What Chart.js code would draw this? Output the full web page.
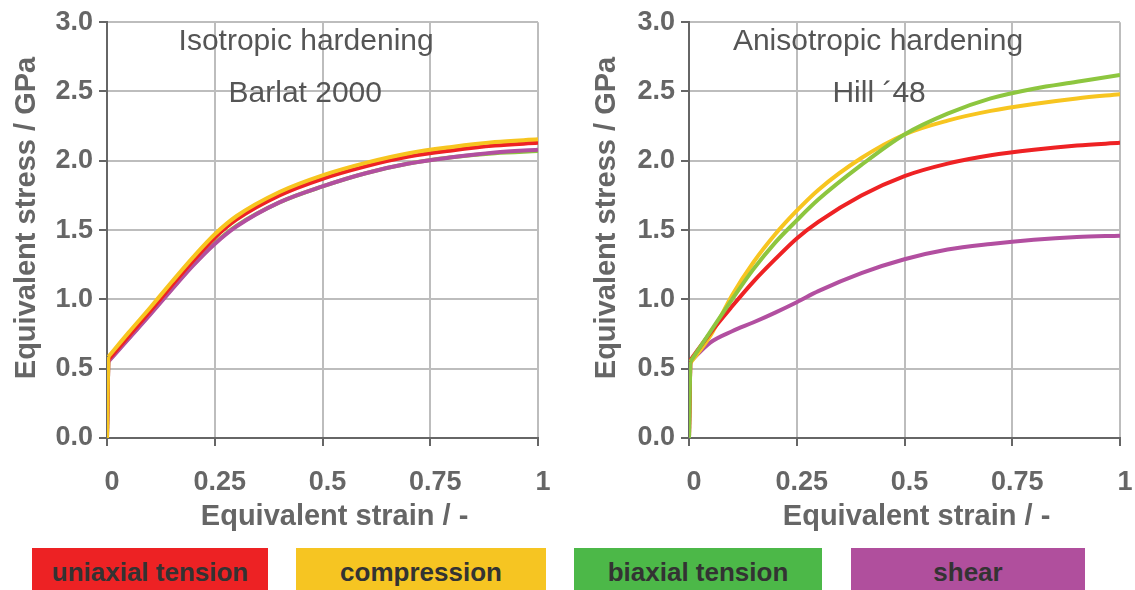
<!DOCTYPE html>
<html>
<head>
<meta charset="utf-8">
<script src="https://cdn.jsdelivr.net/npm/chart.js@4/dist/chart.umd.min.js"></script>
<style>
  body { margin: 0; background: #fff; width: 1135px; height: 590px; position: relative; overflow: hidden; font-family: "Liberation Sans", Arial, sans-serif; }
  .panel { position: absolute; top: 0; height: 540px; }
  #leftBox { left: 0; width: 560px; }
  #rightBox { left: 580px; width: 555px; }
  .key { position: absolute; top: 548px; height: 42px; line-height: 48px; text-align: center; font-weight: bold; font-size: 26px; color: #333; }
</style>
</head>
<body>
<div class="panel" id="leftBox"><canvas id="isoChart"></canvas></div>
<div class="panel" id="rightBox"><canvas id="anisoChart"></canvas></div>

<div class="key" style="left:32px;width:236px;background:#ed2224">uniaxial tension</div>
<div class="key" style="left:296px;width:250px;background:#f6c522">compression</div>
<div class="key" style="left:574px;width:248px;background:#4cb848">biaxial tension</div>
<div class="key" style="left:851px;width:234px;background:#b04f9d">shear</div>

<script>
// strain points shared by every curve (first step = elastic part)
var strain = [0, 0.003, 0.05, 0.1, 0.15, 0.2, 0.25, 0.3, 0.4, 0.5, 0.6, 0.7, 0.8, 0.9, 1.0];

// isotropic hardening, Barlat 2000 (GPa)
var isoTension     = [0, 0.565, 0.735, 0.915, 1.10, 1.28, 1.445, 1.575, 1.75, 1.87, 1.96, 2.03, 2.075, 2.11, 2.13];
var isoCompression = [0, 0.585, 0.76, 0.94, 1.125, 1.305, 1.47, 1.60, 1.775, 1.895, 1.985, 2.055, 2.10, 2.135, 2.155];
var isoBiaxial     = [0, 0.555, 0.72, 0.895, 1.075, 1.25, 1.405, 1.53, 1.70, 1.815, 1.91, 1.98, 2.025, 2.055, 2.07];
var isoShear       = [0, 0.55, 0.715, 0.89, 1.07, 1.245, 1.40, 1.525, 1.70, 1.815, 1.91, 1.98, 2.025, 2.06, 2.08];

// anisotropic hardening, Hill '48 (GPa)
var anisoTension     = [0, 0.56, 0.76, 0.95, 1.13, 1.29, 1.44, 1.56, 1.75, 1.89, 1.98, 2.04, 2.08, 2.11, 2.13];
var anisoCompression = [0, 0.54, 0.74, 1.03, 1.27, 1.47, 1.64, 1.79, 2.02, 2.19, 2.29, 2.36, 2.41, 2.45, 2.48];
var anisoBiaxial     = [0, 0.55, 0.77, 1.00, 1.22, 1.41, 1.57, 1.72, 1.97, 2.19, 2.34, 2.45, 2.52, 2.57, 2.62];
var anisoShear       = [0, 0.55, 0.69, 0.77, 0.835, 0.905, 0.98, 1.06, 1.19, 1.29, 1.36, 1.40, 1.43, 1.45, 1.46];

var yTicks = [0, 0.5, 1, 1.5, 2, 2.5, 3];
var xTicks = [0, 0.25, 0.5, 0.75, 1];

var lineColors = {
  tension: '#ee2224',
  compression: '#f7c520',
  biaxial: '#8dc63f',
  shear: '#b24fa0'
};

var fontName = '"Liberation Sans", Arial, sans-serif';

function pairs(xs, ys) {
  return xs.map(function(x, i) { return { x: x, y: ys[i] }; });
}

// one curve = straight elastic step + smooth hardening part
function series(label, ys, color, order) {
  var base = {
    borderColor: color,
    backgroundColor: color,
    borderWidth: 4,
    pointRadius: 0,
    order: order
  };
  var elastic = Object.assign({}, base, {
    label: label + ' (elastic)',
    data: pairs(strain.slice(0, 2), ys.slice(0, 2)),
    tension: 0
  });
  var plastic = Object.assign({}, base, {
    label: label,
    data: pairs(strain.slice(1), ys.slice(1)),
    cubicInterpolationMode: 'monotone'
  });
  return [elastic, plastic];
}

// text written inside the plot area
var notesPlugin = {
  id: 'notes',
  afterDraw: function(chart) {
    var notes = chart.options.plugins.notes.lines;
    var area = chart.chartArea;
    var ctx = chart.ctx;
    ctx.save();
    ctx.font = '30px ' + fontName;
    ctx.fillStyle = '#555';
    ctx.textAlign = 'center';
    ctx.textBaseline = 'middle';
    notes.forEach(function(n) {
      ctx.fillText(n.text, area.left + n.fx * area.width, area.top + n.dy);
    });
    ctx.restore();
  }
};

function makeChart(id, sets, notes, axisWidth, rightPad) {
  return new Chart(document.getElementById(id), {
    type: 'line',
    data: { datasets: [].concat.apply([], sets) },
    plugins: [notesPlugin],
    options: {
      responsive: true,
      maintainAspectRatio: false,
      animation: false,
      layout: { padding: { top: 20, right: rightPad, left: 0, bottom: 0 } },
      plugins: {
        legend: { display: false },
        tooltip: { enabled: false },
        notes: { lines: notes }
      },
      scales: {
        x: {
          type: 'linear',
          min: 0,
          max: 1,
          afterBuildTicks: function(scale) {
            scale.ticks = xTicks.map(function(v) { return { value: v }; });
          },
          afterFit: function(scale) {
            scale.height = 102;
            scale.paddingLeft = 0;
            scale.paddingRight = 0;
          },
          grid: { color: '#bdbdbd', lineWidth: 2, tickColor: '#666', tickLength: 8 },
          border: { color: '#666', width: 2 },
          ticks: {
            padding: 20,
            labelOffset: 5,
            maxRotation: 0,
            color: '#666',
            font: { family: fontName, size: 27, weight: 'bold' },
            callback: function(v) { return String(v); }
          },
          title: {
            display: true,
            text: '   Equivalent strain / -',
            color: '#666',
            padding: { top: 0, bottom: 6 },
            font: { family: fontName, size: 29, weight: 'bold' }
          }
        },
        y: {
          min: 0,
          max: 3,
          afterBuildTicks: function(scale) {
            scale.ticks = yTicks.map(function(v) { return { value: v }; });
          },
          afterFit: function(scale) { scale.width = axisWidth; },
          grid: { color: '#bdbdbd', lineWidth: 2, tickColor: '#666', tickLength: 8 },
          border: { color: '#666', width: 2 },
          ticks: {
            padding: 6,
            color: '#666',
            font: { family: fontName, size: 27, weight: 'bold' },
            callback: function(v) { return Number(v).toFixed(1); }
          },
          title: {
            display: true,
            text: '   Equivalent stress / GPa',
            color: '#666',
            padding: { top: 10, bottom: 0 },
            font: { family: fontName, size: 29, weight: 'bold' }
          }
        }
      }
    }
  });
}

makeChart('isoChart', [
  series('uniaxial tension', isoTension, lineColors.tension, 2),
  series('compression', isoCompression, lineColors.compression, 1),
  series('biaxial tension', isoBiaxial, lineColors.biaxial, 4),
  series('shear', isoShear, lineColors.shear, 3)
], [
  { text: 'Isotropic hardening', fx: 0.462, dy: 20 },
  { text: 'Barlat 2000', fx: 0.46, dy: 72 }
], 107, 22);

makeChart('anisoChart', [
  series('uniaxial tension', anisoTension, lineColors.tension, 2),
  series('compression', anisoCompression, lineColors.compression, 3),
  series('biaxial tension', anisoBiaxial, lineColors.biaxial, 1),
  series('shear', anisoShear, lineColors.shear, 4)
], [
  { text: 'Anisotropic hardening', fx: 0.4385, dy: 20 },
  { text: 'Hill \u00b448', fx: 0.441, dy: 72 }
], 109, 15);
</script>
</body>
</html>
